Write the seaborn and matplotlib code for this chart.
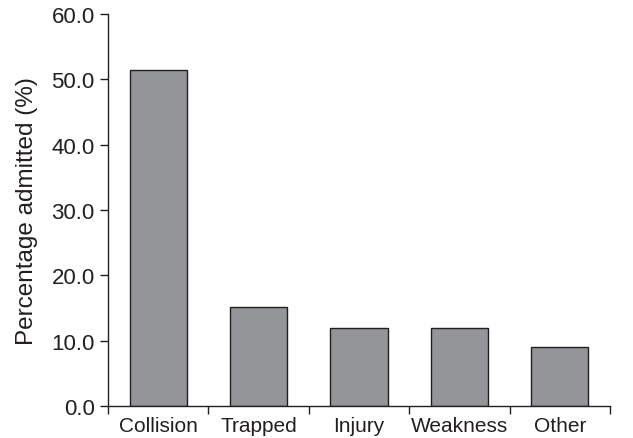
import numpy as np
import pandas as pd
import matplotlib.pyplot as plt
import seaborn as sns
from matplotlib.ticker import FixedLocator, FormatStrFormatter

sns.set_style("ticks")
plt.rcParams['font.family'] = ['Liberation Sans', 'DejaVu Sans']

# Admission reasons
categories = ['Collision', 'Trapped', 'Injury', 'Weakness', 'Other']
percent_admitted = [51.5, 15.1, 12.0, 12.0, 9.0]

df = pd.DataFrame({'reason': categories, 'pct': percent_admitted})

fig = plt.figure(figsize=(6.33, 4.39), dpi=100)
ax = fig.add_axes([0.1706, 0.0729, 0.7931, 0.8929])

sns.barplot(data=df, x='reason', y='pct', color='#939598', saturation=1,
            edgecolor='#231f20', linewidth=1.0, width=0.57, ax=ax)

ax.set_xlim(-0.5, len(categories) - 0.5)
ax.set_ylim(0, 60)
ax.set_yticks(np.arange(0, 61, 10))
ax.yaxis.set_major_formatter(FormatStrFormatter('%.1f'))

# category boundaries as tick marks, labels centred without marks
ax.xaxis.set_minor_locator(FixedLocator(np.arange(-0.5, len(categories), 1.0)))
ax.tick_params(axis='x', which='major', length=0, pad=7, labelsize=15, colors='#231f20')
ax.tick_params(axis='x', which='minor', length=6, width=1, color='#231f20')
ax.tick_params(axis='y', which='major', length=6, width=1, pad=3.5, labelsize=16,
               colors='#231f20')

ax.set_xlabel('')
ax.set_ylabel('Percentage admitted (%)', fontsize=17.5, color='#231f20', labelpad=10)

sns.despine(ax=ax)
for s in ['left', 'bottom']:
    ax.spines[s].set_color('#231f20')
    ax.spines[s].set_linewidth(1)

plt.savefig('out.png', dpi=100)
